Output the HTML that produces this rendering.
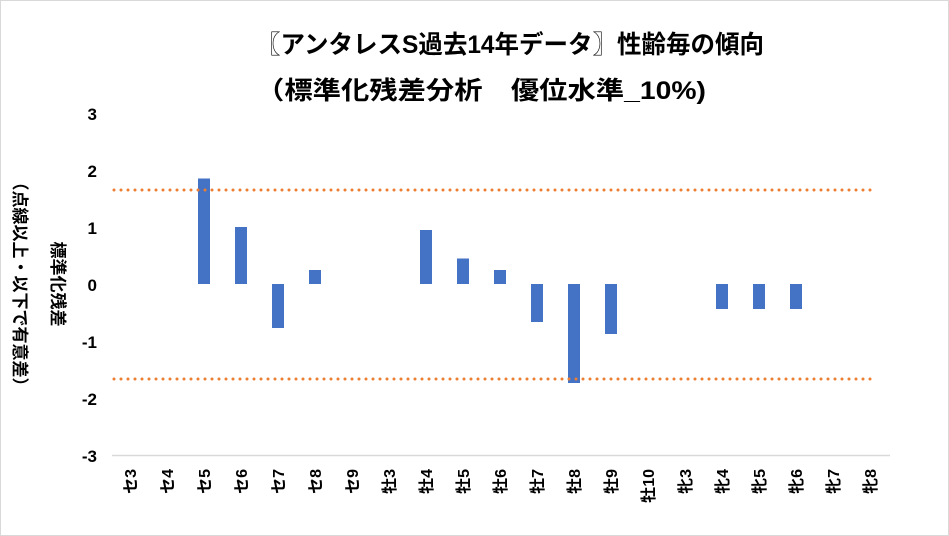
<!DOCTYPE html><html><head><meta charset="utf-8"><style>
body{margin:0;background:#fff}
svg{display:block}
text{font-family:"Liberation Sans","Noto Sans CJK JP",sans-serif;font-weight:bold;fill:#000}
</style></head><body>
<svg width="949" height="536" viewBox="0 0 949 536">
<rect x="0.5" y="0.5" width="948" height="535" fill="#fff" stroke="#d9d9d9"/>
<text x="256" y="53" font-size="25" textLength="508" lengthAdjust="spacingAndGlyphs">〖アンタレスS過去14年データ〗性齢毎の傾向</text>
<text x="256" y="99" font-size="25" textLength="450" lengthAdjust="spacingAndGlyphs">（標準化残差分析　優位水準_10%)</text>
<g font-size="17" text-anchor="end">
<text x="97" y="120">3</text><text x="97" y="177">2</text><text x="97" y="234">1</text><text x="97" y="291">0</text><text x="97" y="348">-1</text><text x="97" y="405">-2</text><text x="97" y="462">-3</text>
</g>
<g font-size="17" transform="translate(52,284) rotate(90)"><text x="0" y="0" text-anchor="middle">標準化残差</text></g>
<g font-size="17" transform="translate(14,284) rotate(90)"><text x="0" y="0" text-anchor="middle">（点線以上・以下で有意差）</text></g>
<line x1="112" y1="455.5" x2="890" y2="455.5" stroke="#d9d9d9" stroke-width="1.5"/>
<g fill="#4472C4">
<rect x="198" y="178.5" width="12" height="105.5"/>
<rect x="235" y="227" width="12" height="57"/>
<rect x="272" y="284" width="12" height="44"/>
<rect x="309" y="270" width="12" height="14"/>
<rect x="420" y="230" width="12" height="54"/>
<rect x="457" y="258.5" width="12" height="25.5"/>
<rect x="494" y="270" width="12" height="14"/>
<rect x="531" y="284" width="12" height="38"/>
<rect x="568" y="284" width="12" height="99"/>
<rect x="605" y="284" width="12" height="50"/>
<rect x="716" y="284" width="12" height="25"/>
<rect x="753" y="284" width="12" height="25"/>
<rect x="790" y="284" width="12" height="25"/>
</g>
<g stroke="#ED7D31" stroke-width="3" stroke-linecap="round" stroke-dasharray="0 7">
<line x1="114" y1="190" x2="876" y2="190"/>
<line x1="114" y1="379" x2="876" y2="379"/>
</g>
<g font-size="16">
<text transform="translate(136,469) rotate(-90)" text-anchor="end">セ3</text>
<text transform="translate(173,469) rotate(-90)" text-anchor="end">セ4</text>
<text transform="translate(210,469) rotate(-90)" text-anchor="end">セ5</text>
<text transform="translate(247,469) rotate(-90)" text-anchor="end">セ6</text>
<text transform="translate(284,469) rotate(-90)" text-anchor="end">セ7</text>
<text transform="translate(321,469) rotate(-90)" text-anchor="end">セ8</text>
<text transform="translate(358,469) rotate(-90)" text-anchor="end">セ9</text>
<text transform="translate(395,469) rotate(-90)" text-anchor="end">牡3</text>
<text transform="translate(432,469) rotate(-90)" text-anchor="end">牡4</text>
<text transform="translate(469,469) rotate(-90)" text-anchor="end">牡5</text>
<text transform="translate(506,469) rotate(-90)" text-anchor="end">牡6</text>
<text transform="translate(543,469) rotate(-90)" text-anchor="end">牡7</text>
<text transform="translate(580,469) rotate(-90)" text-anchor="end">牡8</text>
<text transform="translate(617,469) rotate(-90)" text-anchor="end">牡9</text>
<text transform="translate(654,469) rotate(-90)" text-anchor="end">牡10</text>
<text transform="translate(691,469) rotate(-90)" text-anchor="end">牝3</text>
<text transform="translate(728,469) rotate(-90)" text-anchor="end">牝4</text>
<text transform="translate(765,469) rotate(-90)" text-anchor="end">牝5</text>
<text transform="translate(802,469) rotate(-90)" text-anchor="end">牝6</text>
<text transform="translate(839,469) rotate(-90)" text-anchor="end">牝7</text>
<text transform="translate(876,469) rotate(-90)" text-anchor="end">牝8</text>
</g>
</svg>
</body></html>
